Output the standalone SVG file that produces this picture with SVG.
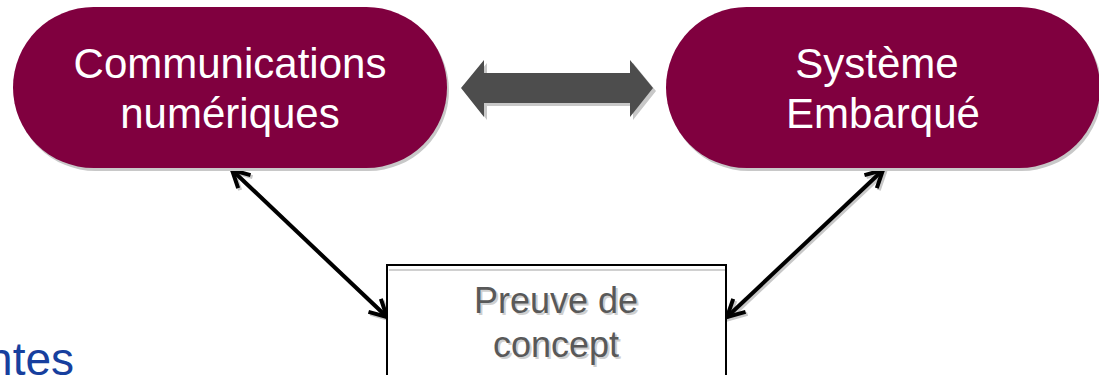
<svg xmlns="http://www.w3.org/2000/svg" width="1099" height="375" viewBox="0 0 1099 375">
<style>
.pill{fill:#80003F}
.pshadow{fill:#c8c8c8}
.wt{fill:#ffffff;font-family:"Liberation Sans",Arial,sans-serif;font-size:42px;text-anchor:middle}
.gt{fill:#595959;font-family:"Liberation Sans",Arial,sans-serif;font-size:36px;text-anchor:middle}
.gts{fill:#cfcfcf;font-family:"Liberation Sans",Arial,sans-serif;font-size:36px;text-anchor:middle}
.conn{stroke:#000;stroke-width:4;fill:none;marker-start:url(#ah);marker-end:url(#ah)}
.connS{stroke:#c8c8c8;stroke-width:4;fill:none;marker-start:url(#ahs);marker-end:url(#ahs)}
</style>
<defs>
<marker id="ah" markerUnits="userSpaceOnUse" markerWidth="30" markerHeight="30" refX="0" refY="0" viewBox="-20 -15 30 30" orient="auto-start-reverse" overflow="visible">
<path d="M-17,-9 L0,0 L-17,9" fill="none" stroke="#000" stroke-width="4"/>
</marker>
<marker id="ahs" markerUnits="userSpaceOnUse" markerWidth="30" markerHeight="30" refX="0" refY="0" viewBox="-20 -15 30 30" orient="auto-start-reverse" overflow="visible">
<path d="M-17,-9 L0,0 L-17,9" fill="none" stroke="#c8c8c8" stroke-width="4"/>
</marker>
</defs>
<rect width="1099" height="375" fill="#ffffff"/>
<text x="74" y="375" fill="#173F9E" font-family="'Liberation Sans',Arial,sans-serif" font-size="46" text-anchor="end">ntes</text>
<g id="connectors">
<line class="connS" x1="234" y1="172" x2="389" y2="319"/>
<line class="connS" x1="885" y1="172" x2="729" y2="319"/>
<polygon points="464,91 487,63 487,76 633,76 633,63 656,91 633,120 633,106 487,106 487,120" fill="#c8c8c8"/>
<line class="conn" x1="232" y1="170" x2="387" y2="317"/>
<line class="conn" x1="883" y1="170" x2="727" y2="317"/>
<polygon points="461,88 484,60 484,73 630,73 630,60 653,88 630,117 630,103 484,103 484,117" fill="#4d4d4d"/>
</g>
<g id="node-communications">
<rect class="pshadow" x="15" y="10" width="434" height="161" rx="80.5"/>
<rect class="pill" x="13" y="7" width="434" height="161" rx="80.5"/>
<text class="wt" x="230" y="78">Communications</text>
<text class="wt" x="230" y="128">numériques</text>
</g>
<g id="node-systeme">
<rect class="pshadow" x="668" y="10" width="434" height="161" rx="80.5"/>
<rect class="pill" x="666" y="7" width="434" height="161" rx="80.5"/>
<text class="wt" x="877" y="78">Système</text>
<text class="wt" x="883" y="128">Embarqué</text>
</g>
<g id="node-preuve">
<rect x="387" y="265" width="339" height="120" fill="#ffffff" stroke="#000" stroke-width="2"/>
<line x1="389" y1="270" x2="725" y2="270" stroke="#d0d0d0" stroke-width="2"/>
<text class="gts" x="558" y="315">Preuve de</text>
<text class="gts" x="558" y="359">concept</text>
<text class="gt" x="556" y="313">Preuve de</text>
<text class="gt" x="556" y="357">concept</text>
</g>
</svg>
